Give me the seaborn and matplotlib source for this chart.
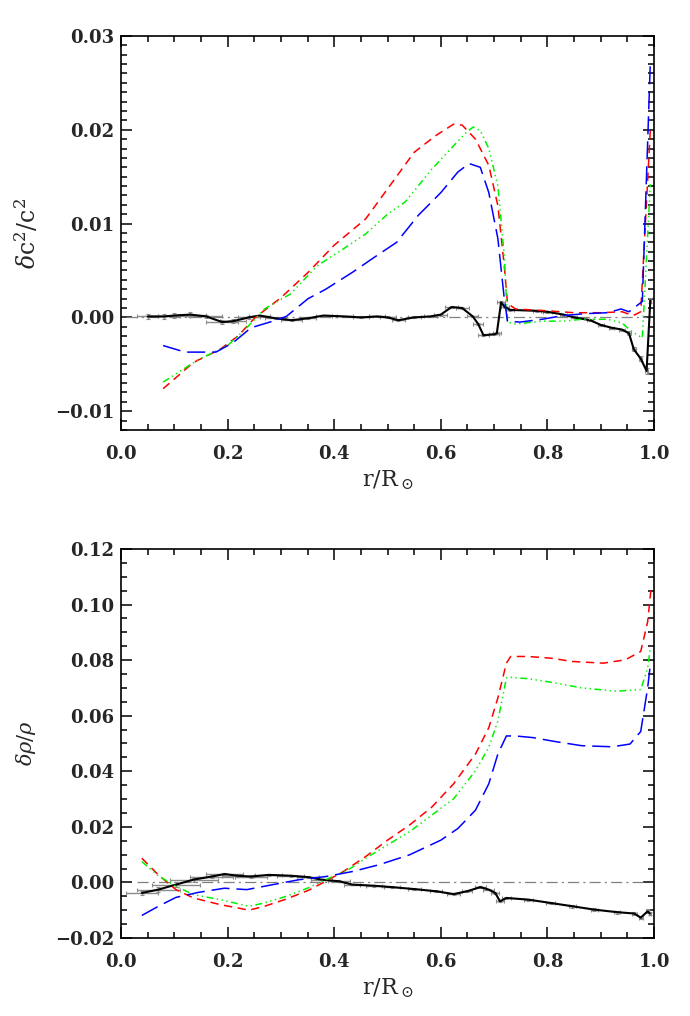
import numpy as np
import pandas as pd
import matplotlib
matplotlib.use("Agg")
import matplotlib.pyplot as plt
from matplotlib.ticker import MultipleLocator, FuncFormatter
import seaborn as sns

# ---------------- data: sound speed panel ----------------
r_c_red = [0.079, 0.136, 0.186, 0.219, 0.252, 0.30, 0.351, 0.40, 0.459, 0.50, 0.55, 0.591,
           0.624, 0.64, 0.665, 0.69, 0.707, 0.719, 0.725, 0.74, 0.80, 0.85, 0.90, 0.94,
           0.961, 0.975, 0.993]
dc_red = [-0.0076, -0.0048, -0.0034, -0.0020, 0.0, 0.0021, 0.0048, 0.0077, 0.0105, 0.0137,
          0.0176, 0.0194, 0.0206, 0.0205, 0.0190, 0.0162, 0.0119, 0.0055, 0.0015, 0.0009,
          0.0007, 0.0005, 0.0005, 0.0006, 0.0002, 0.0006, 0.0200]

r_c_green = [0.079, 0.145, 0.20, 0.236, 0.269, 0.318, 0.368, 0.417, 0.459, 0.50, 0.533, 0.583,
             0.624, 0.649, 0.661, 0.674, 0.69, 0.707, 0.719, 0.725, 0.74, 0.79, 0.83, 0.864,
             0.913, 0.94, 0.956, 0.978, 0.993]
dc_green = [-0.0069, -0.0045, -0.0030, -0.0011, 0.0009, 0.0025, 0.0055, 0.0073, 0.0089, 0.0110,
            0.0123, 0.0158, 0.0183, 0.0198, 0.0203, 0.0199, 0.0180, 0.0140, 0.0066, -0.0005,
            -0.0007, -0.0004, -0.0004, -0.0002, -0.0002, -0.0006, -0.0014, -0.0022, 0.0142]

r_c_blue = [0.079, 0.12, 0.178, 0.21, 0.244, 0.285, 0.31, 0.351, 0.384, 0.434, 0.475, 0.517,
            0.558, 0.60, 0.632, 0.653, 0.674, 0.69, 0.707, 0.719, 0.725, 0.748, 0.79, 0.83,
            0.872, 0.913, 0.938, 0.953, 0.978, 0.993]
dc_blue = [-0.0030, -0.0037, -0.0037, -0.0027, -0.0011, -0.0004, 0.0001, 0.0020, 0.0030, 0.0048,
           0.0064, 0.0080, 0.0109, 0.0133, 0.0155, 0.0164, 0.0160, 0.0133, 0.0084, 0.0020,
           -0.0004, -0.0005, -0.0002, 0.0002, 0.0004, 0.0005, 0.0009, 0.0006, 0.0017, 0.0272]

r_c_obs = [0.05, 0.08, 0.10, 0.13, 0.16, 0.19, 0.21, 0.24, 0.26, 0.29, 0.32, 0.35, 0.38, 0.42,
           0.45, 0.48, 0.50, 0.52, 0.55, 0.58, 0.60, 0.62, 0.64, 0.66, 0.67, 0.68, 0.70, 0.705,
           0.713, 0.72, 0.73, 0.78, 0.80, 0.83, 0.85, 0.88, 0.90, 0.92, 0.94, 0.953, 0.962,
           0.975, 0.986, 0.993]
dc_obs = [0.0001, 0.0001, 0.0002, 0.0003, 0.0001, -0.0005, -0.0004, 0.0, 0.0002, -0.0001,
          -0.0003, -0.0001, 0.0002, 0.0001, 0.0, 0.0001, 0.0, -0.0003, 0.0, 0.0001, 0.0003,
          0.0011, 0.0010, 0.0001, -0.0007, -0.0019, -0.0018, -0.0017, 0.0016, 0.0011, 0.0008,
          0.0007, 0.0006, 0.0003, 0.0, -0.0003, -0.0008, -0.0011, -0.0013, -0.0017, -0.0034,
          -0.0044, -0.0057, 0.0018]
dc_obs_xerr = [0.02, 0.03, 0.03, 0.03, 0.03, 0.03, 0.025, 0.02, 0.02, 0.02, 0.02, 0.015, 0.015,
               0.015, 0.015, 0.015, 0.015, 0.012, 0.012, 0.012, 0.012, 0.012, 0.012, 0.01, 0.01,
               0.01, 0.01, 0.008, 0.008, 0.008, 0.008, 0.008, 0.008, 0.006, 0.006, 0.006, 0.006,
               0.005, 0.005, 0.004, 0.004, 0.003, 0.003, 0.002]
dc_obs_yerr = [0.0003, 0.0003, 0.0003, 0.0003, 0.0002, 0.0002, 0.0002, 0.0002, 0.0001, 0.0001,
               0.0001, 0.0001, 0.0001, 0.0001, 0.0001, 0.0001, 0.0001, 0.0001, 0.0001, 0.0001,
               0.0001, 0.0001, 0.0001, 0.0001, 0.0001, 0.0001, 0.0001, 0.0001, 0.0001, 0.0001,
               0.0001, 0.0001, 0.0001, 0.0001, 0.0001, 0.0001, 0.0001, 0.0001, 0.0001, 0.0002,
               0.0002, 0.0003, 0.0003, 0.0003]

# ---------------- data: density panel ----------------
r_d_red = [0.039, 0.07, 0.103, 0.136, 0.186, 0.219, 0.24, 0.269, 0.31, 0.351, 0.384, 0.417,
           0.459, 0.50, 0.541, 0.583, 0.624, 0.665, 0.69, 0.707, 0.723, 0.731, 0.764, 0.806,
           0.847, 0.905, 0.946, 0.975, 0.988, 0.994]
dd_red = [0.0087, 0.0027, -0.0026, -0.0056, -0.0080, -0.0092, -0.0100, -0.0086, -0.0060,
          -0.0029, 0.0004, 0.0039, 0.0093, 0.0152, 0.0206, 0.0271, 0.0355, 0.0462, 0.0557,
          0.0664, 0.0789, 0.0813, 0.0813, 0.0807, 0.0795, 0.0789, 0.0801, 0.0831, 0.0938, 0.1051]

r_d_green = [0.039, 0.07, 0.103, 0.136, 0.186, 0.24, 0.269, 0.31, 0.351, 0.384, 0.426, 0.459,
             0.50, 0.541, 0.583, 0.624, 0.665, 0.69, 0.707, 0.723, 0.731, 0.764, 0.814, 0.864,
             0.93, 0.975, 0.988, 0.993]
dd_green = [0.0075, 0.0024, -0.0014, -0.0044, -0.0062, -0.0086, -0.0074, -0.0050, -0.0020,
            0.0010, 0.0045, 0.0087, 0.0135, 0.0182, 0.0242, 0.0301, 0.0402, 0.0486, 0.0581,
            0.0736, 0.0738, 0.0733, 0.0718, 0.0700, 0.0688, 0.0694, 0.0771, 0.0843]

r_d_blue = [0.039, 0.07, 0.103, 0.145, 0.194, 0.236, 0.285, 0.335, 0.384, 0.434, 0.483, 0.541,
            0.60, 0.632, 0.665, 0.69, 0.707, 0.723, 0.74, 0.773, 0.814, 0.864, 0.922, 0.955,
            0.975, 0.988, 0.993]
dd_blue = [-0.0119, -0.0086, -0.0054, -0.0036, -0.0021, -0.0026, -0.0008, 0.0010, 0.0021,
           0.0039, 0.0063, 0.0099, 0.0152, 0.0194, 0.0260, 0.0355, 0.0462, 0.0527, 0.0527,
           0.0521, 0.0507, 0.0492, 0.0488, 0.0498, 0.0543, 0.0700, 0.0783]

r_d_obs = [0.039, 0.07, 0.103, 0.136, 0.17, 0.194, 0.219, 0.244, 0.277, 0.318, 0.351, 0.376,
           0.409, 0.434, 0.475, 0.508, 0.55, 0.591, 0.624, 0.649, 0.674, 0.69, 0.702, 0.711,
           0.723, 0.764, 0.806, 0.847, 0.888, 0.93, 0.963, 0.975, 0.988, 0.992]
dd_obs = [-0.0038, -0.0026, -0.0008, 0.0010, 0.0021, 0.0030, 0.0024, 0.0021, 0.0027, 0.0024,
          0.0019, 0.0010, 0.0004, -0.0008, -0.0012, -0.0017, -0.0024, -0.0032, -0.0042,
          -0.0032, -0.0017, -0.0026, -0.0038, -0.0068, -0.0056, -0.0062, -0.0074, -0.0086,
          -0.0098, -0.0107, -0.0112, -0.0127, -0.0104, -0.0112]
dd_obs_xerr = [0.03, 0.04, 0.045, 0.045, 0.04, 0.035, 0.03, 0.03, 0.025, 0.025, 0.02, 0.02,
               0.02, 0.015, 0.015, 0.015, 0.012, 0.012, 0.012, 0.01, 0.01, 0.01, 0.008, 0.008,
               0.008, 0.008, 0.008, 0.007, 0.007, 0.006, 0.005, 0.004, 0.003, 0.002]
dd_obs_yerr = [0.0008, 0.0008, 0.0008, 0.0007, 0.0006, 0.0005, 0.0005, 0.0004, 0.0004, 0.0004,
               0.0003, 0.0003, 0.0003, 0.0003, 0.0003, 0.0003, 0.0003, 0.0003, 0.0003, 0.0003,
               0.0003, 0.0003, 0.0004, 0.0004, 0.0004, 0.0004, 0.0004, 0.0005, 0.0005, 0.0005,
               0.0006, 0.0006, 0.0007, 0.0007]

x_ticks = [0.0, 0.2, 0.4, 0.6, 0.8, 1.0]

# ---------------- style ----------------
sns.set_style("ticks")
plt.rcParams["font.family"] = ["DejaVu Serif"]
plt.rcParams["mathtext.fontset"] = "dejavuserif"
plt.rcParams["lines.scale_dashes"] = False
plt.rcParams["axes.linewidth"] = 1.2
plt.rcParams["axes.edgecolor"] = "black"

RED = (1.0, 0.0, 0.0)
GREEN = (0.0, 0.95, 0.0)
BLUE = (0.0, 0.0, 1.0)
LS_RED = (0, (6, 4))
LS_GREEN = (0, (5, 2.5, 1, 2.5, 1, 2.5, 1, 2.5))
LS_BLUE = (0, (13, 5))
LS_ZERO = (0, (8, 3, 1.5, 3))

fig = plt.figure(figsize=(6.9, 10.16), dpi=100)
ax1 = fig.add_axes([0.1754, 0.5768, 0.7725, 0.3878])
ax2 = fig.add_axes([0.1754, 0.0768, 0.7725, 0.3829])


def draw_panel(ax, obs, models, xerr, yerr, zero_span):
    ax.axhline(0.0, xmin=zero_span[0], xmax=zero_span[1], color="0.5",
               lw=0.9, linestyle=LS_ZERO, zorder=1)
    r_obs, v_obs = obs
    ax.errorbar(r_obs, v_obs, xerr=xerr, yerr=yerr, fmt="none",
                ecolor="0.55", elinewidth=1.0, capsize=1.5, capthick=0.8, zorder=2)
    sns.lineplot(x=r_obs, y=v_obs, ax=ax, color="black", lw=1.5,
                 estimator=None, sort=False, zorder=3)
    for (r, v, col, ls) in models:
        sns.lineplot(x=r, y=v, ax=ax, color=col, lw=1.1, estimator=None,
                     sort=False, zorder=4)
        ax.lines[-1].set_linestyle(ls)


draw_panel(ax1, (r_c_obs, dc_obs),
           [(r_c_red, dc_red, RED, LS_RED),
            (r_c_green, dc_green, GREEN, LS_GREEN),
            (r_c_blue, dc_blue, BLUE, LS_BLUE)],
           dc_obs_xerr, dc_obs_yerr, (0.01, 0.985))
draw_panel(ax2, (r_d_obs, dd_obs),
           [(r_d_red, dd_red, RED, LS_RED),
            (r_d_green, dd_green, GREEN, LS_GREEN),
            (r_d_blue, dd_blue, BLUE, LS_BLUE)],
           dd_obs_xerr, dd_obs_yerr, (0.03, 0.987))

fmt2 = FuncFormatter(lambda v, p: f"{v:.2f}".replace("-", "\u2212"))
fmt1 = FuncFormatter(lambda v, p: f"{v:.1f}".replace("-", "\u2212"))

ax1.set_ylim(-0.012, 0.03)
ax1.yaxis.set_major_locator(MultipleLocator(0.01))
ax1.yaxis.set_minor_locator(MultipleLocator(0.001))
ax1.yaxis.set_major_formatter(fmt2)
ax1.set_ylabel(r"$\delta$c$^{2}$/c$^{2}$", fontsize=17, labelpad=10)

ax2.set_ylim(-0.02, 0.12)
ax2.yaxis.set_major_locator(MultipleLocator(0.02))
ax2.yaxis.set_minor_locator(MultipleLocator(0.005))
ax2.yaxis.set_major_formatter(fmt2)
ax2.set_ylabel(r"$\delta\rho$/$\rho$", fontsize=15, labelpad=12)

for ax in (ax1, ax2):
    ax.set_xlim(0.0, 1.0)
    ax.set_xticks(x_ticks)
    ax.xaxis.set_minor_locator(MultipleLocator(0.05))
    ax.xaxis.set_major_formatter(fmt1)
    ax.set_xlabel(r"r/R$_\odot$", fontsize=16, labelpad=4)
    ax.tick_params(which="both", direction="in", top=True, right=True,
                   width=1.1, color="black")
    ax.tick_params(which="major", length=8)
    ax.tick_params(which="minor", length=4.5)
    ax.tick_params(axis="x", which="major", pad=11)
    ax.tick_params(axis="y", which="major", pad=5)
    for lab in ax.get_xticklabels() + ax.get_yticklabels():
        lab.set_fontsize(13)
        lab.set_fontweight("bold")
    for s in ax.spines.values():
        s.set_visible(True)
        s.set_linewidth(1.2)
        s.set_color("black")
    ax.set_facecolor("white")

fig.patch.set_facecolor("white")
fig.savefig("out.png", dpi=100, facecolor="white")
